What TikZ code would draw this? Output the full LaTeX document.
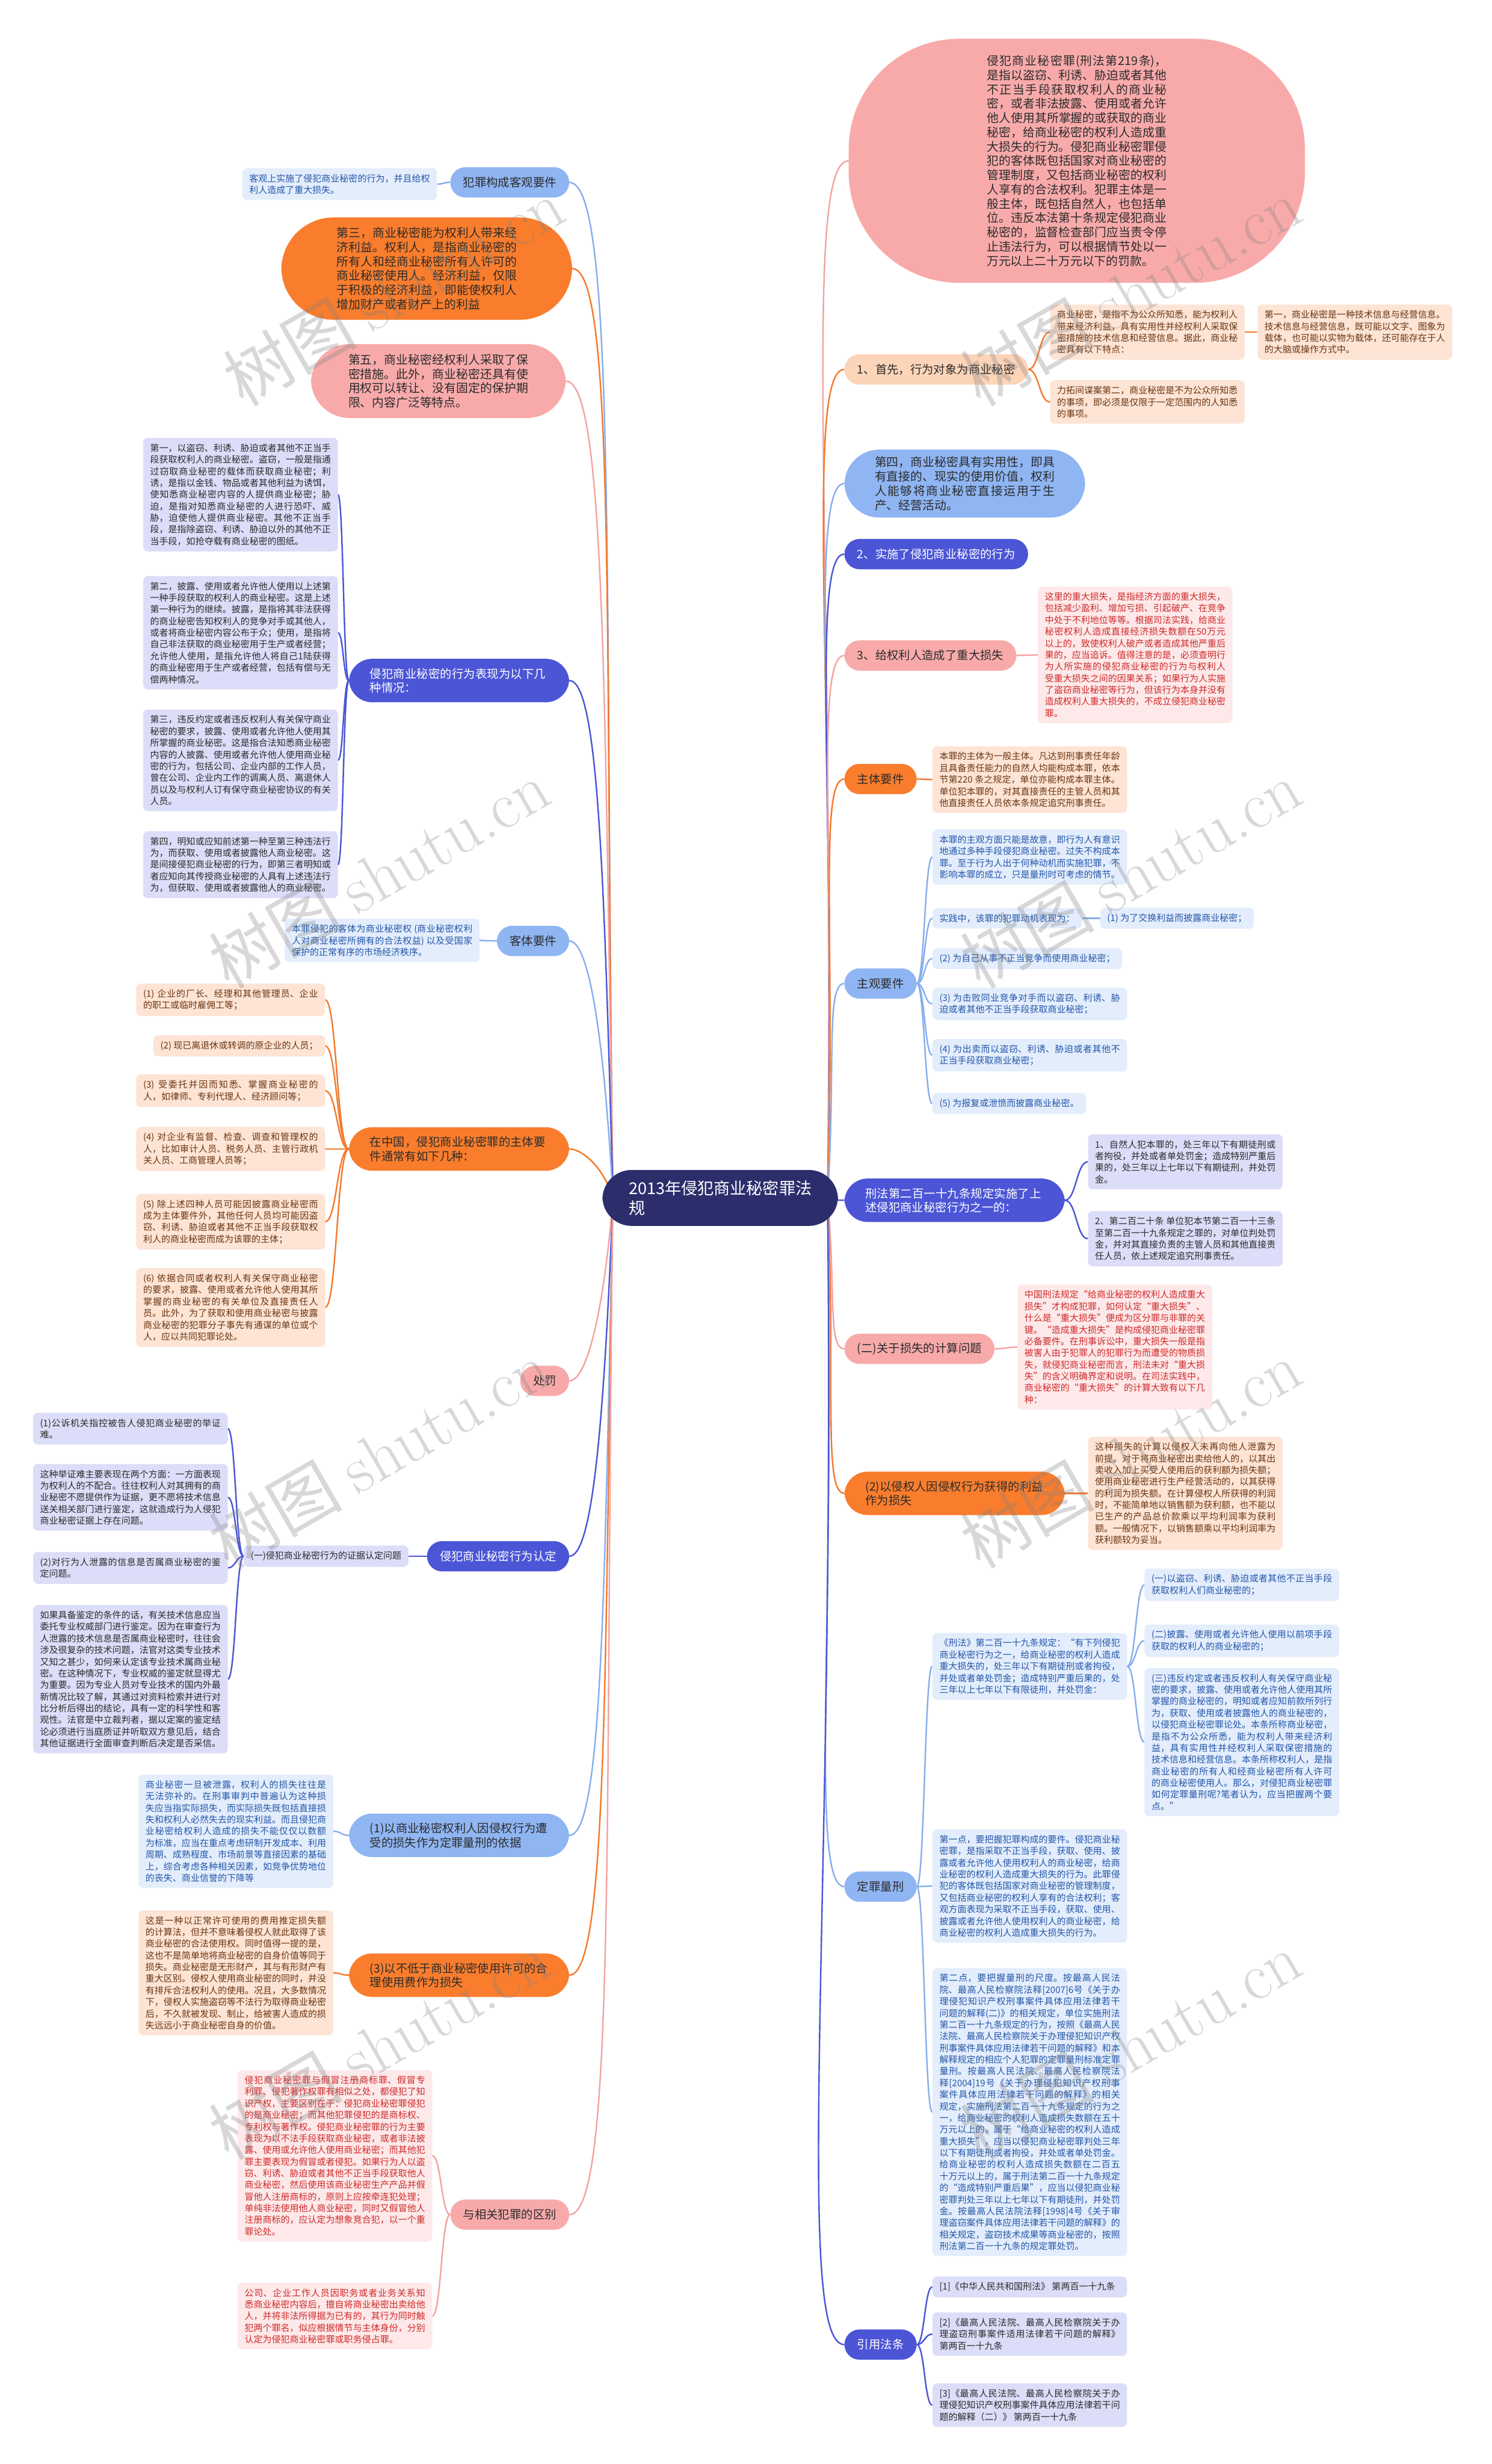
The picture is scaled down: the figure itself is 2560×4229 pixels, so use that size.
\documentclass[tikz,border=0pt]{standalone}
\usepackage{fontspec}
\newfontfamily\cjk{Noto Sans CJK SC}
\usetikzlibrary{calc,backgrounds}
\XeTeXlinebreaklocale "zh"
\XeTeXlinebreakskip = 0pt plus 1pt
\definecolor{cen}{HTML}{2C2E6C}
\definecolor{ind}{HTML}{4B55D6}
\definecolor{indL}{HTML}{DCDDF8}
\definecolor{org}{HTML}{F97D2D}
\definecolor{orgP}{HTML}{FCD4B8}
\definecolor{orgL}{HTML}{FDE4D5}
\definecolor{blu}{HTML}{8FB5F2}
\definecolor{bluL}{HTML}{E3EDFC}
\definecolor{pnk}{HTML}{F8AAAA}
\definecolor{pnkL}{HTML}{FDE9E9}
\definecolor{txt}{HTML}{2B2B2B}
\definecolor{brn}{HTML}{6A3512}
\definecolor{bluT}{HTML}{2456A8}
\definecolor{redT}{HTML}{D0282A}
\definecolor{cInd}{HTML}{4B55D6}
\definecolor{cOrg}{HTML}{F47A2C}
\definecolor{cBlu}{HTML}{86AEEE}
\definecolor{cPnk}{HTML}{F2A3A3}
\newcommand\mainR[2]{\draw[#1] let \p1=(hubR), \p2=(#2.west) in (\p1) .. controls (\x1+15pt,{0.4*\y1+0.6*\y2}) and ({\x2-20pt-0.035*abs(\y2-\y1)},\y2) .. (\p2);}
\newcommand\mainL[2]{\draw[#1] let \p1=(hubL), \p2=(#2.east) in (\p1) .. controls (\x1-15pt,{0.4*\y1+0.6*\y2}) and ({\x2+20pt+0.035*abs(\y2-\y1)},\y2) .. (\p2);}
\newcommand\chR[3]{\draw[#1] (#2.east) .. controls ($(#2.east)!0.5!(#3.west|-#2.east)$) and ($(#3.west)!0.5!(#2.east|-#3.west)$) .. (#3.west);}
\newcommand\chL[3]{\draw[#1] (#2.west) .. controls ($(#2.west)!0.5!(#3.east|-#2.west)$) and ($(#3.east)!0.5!(#2.west|-#3.east)$) .. (#3.east);}
\begin{document}
\begin{tikzpicture}[x=1pt,y=-1pt,
  pill/.style={rounded corners=26pt, minimum height=52pt, inner xsep=22pt, inner ysep=10pt, font=\cjk\fontsize{20}{24}\selectfont},
  pilltwo/.style={rounded corners=40pt, inner xsep=36pt, inner ysep=16pt, text width=306pt, align=left, font=\cjk\fontsize{20}{24}\selectfont},
  big/.style={inner ysep=17pt, text width=309pt, align=justify, font=\cjk\fontsize{20.5}{24.5}\selectfont},
  box/.style={rounded corners=8pt, inner xsep=12pt, inner ysep=10pt, text width=310pt, align=justify, font=\cjk\fontsize{15.5}{20}\selectfont},
  boxn/.style={rounded corners=8pt, inner xsep=12pt, inner ysep=10pt, align=left, font=\cjk\fontsize{15.5}{20}\selectfont},
  fInd/.style={fill=ind, text=white},
  fIndL/.style={fill=indL, text=txt},
  fOrg/.style={fill=org, text=txt},
  fOrgL/.style={fill=orgL, text=brn},
  fBlu/.style={fill=blu, text=txt},
  fBluL/.style={fill=bluL, text=bluT},
  fPnk/.style={fill=pnk, text=txt},
  fPnkL/.style={fill=pnkL, text=redT},
  lInd/.style={draw=cInd, line width=2.5pt},
  lOrg/.style={draw=cOrg, line width=2.5pt},
  lBlu/.style={draw=cBlu, line width=2.5pt},
  lPnk/.style={draw=cPnk, line width=2.5pt},
  wm/.style={rotate=30, text=gray, opacity=0.3, font=\cjk\fontsize{115}{115}\selectfont}
]
\useasboundingbox (0,0) rectangle (2560,4229);
\begin{scope}[on background layer]
\fill[white] (0,0) rectangle (2560,4229);
\end{scope}

% centre
\node[fill=cen, text=white, rounded corners=50pt, inner xsep=45pt, inner ysep=18pt, align=left, font=\cjk\fontsize{28}{34}\selectfont] (C) at (1236,2056) {2013年侵犯商业秘密罪法\\规};
\coordinate (hubR) at (1420,2056);
\coordinate (hubL) at (1052,2056);

% ---------------- right side ----------------
\node[big, fill=pnk, text=txt, rounded corners=190pt, minimum width=783pt, minimum height=419pt, inner ysep=8pt] (R1) at (1848,276) {侵犯商业秘密罪(刑法第219条)，是指以盗窃、利诱、胁迫或者其他不正当手段获取权利人的商业秘密，或者非法披露、使用或者允许他人使用其所掌握的或获取的商业秘密，给商业秘密的权利人造成重大损失的行为。侵犯商业秘密罪侵犯的客体既包括国家对商业秘密的管理制度，又包括商业秘密的权利人享有的合法权利。犯罪主体是一般主体，既包括自然人，也包括单位。违反本法第十条规定侵犯商业秘密的，监督检查部门应当责令停止违法行为，可以根据情节处以一万元以上二十万元以下的罚款。};

\node[pill, fill=orgP, text=txt, anchor=west] (R2) at (1449,634) {1、首先，行为对象为商业秘密};
\node[box, fOrgL, anchor=west] (R2a) at (1802,570) {商业秘密，是指不为公众所知悉，能为权利人带来经济利益，具有实用性并经权利人采取保密措施的技术信息和经营信息。据此，商业秘密具有以下特点：};
\node[box, fOrgL, anchor=west] (R2b) at (1802,690) {力拓间谍案第二，商业秘密是不为公众所知悉的事项，即必须是仅限于一定范围内的人知悉的事项。};
\node[box, fOrgL, anchor=west] (R2c) at (2158,570) {第一，商业秘密是一种技术信息与经营信息。技术信息与经营信息，既可能以文字、图象为载体，也可能以实物为载体，还可能存在于人的大脑或操作方式中。};

\node[big, fBlu, rounded corners=60pt, inner xsep=52pt, inner ysep=12pt, anchor=west] (R3) at (1449,830) {第四，商业秘密具有实用性，即具有直接的、现实的使用价值，权利人能够将商业秘密直接运用于生产、经营活动。};

\node[pill, fInd, anchor=west] (R4) at (1449,951) {2、实施了侵犯商业秘密的行为};

\node[pill, fPnk, anchor=west] (R5) at (1449,1125) {3、给权利人造成了重大损失};
\node[box, fPnkL, anchor=west] (R5a) at (1781,1124) {这里的重大损失，是指经济方面的重大损失，包括减少盈利、增加亏损、引起破产、在竞争中处于不利地位等等。根据司法实践，给商业秘密权利人造成直接经济损失数额在50万元以上的，致使权利人破产或者造成其他严重后果的，应当追诉。值得注意的是，必须查明行为人所实施的侵犯商业秘密的行为与权利人受重大损失之间的因果关系；如果行为人实施了盗窃商业秘密等行为，但该行为本身并没有造成权利人重大损失的，不成立侵犯商业秘密罪。};

\node[pill, fOrg, anchor=west] (R6) at (1449,1337) {主体要件};
\node[box, fOrgL, anchor=west] (R6a) at (1600,1338) {本罪的主体为一般主体。凡达到刑事责任年龄且具备责任能力的自然人均能构成本罪，依本节第220 条之规定，单位亦能构成本罪主体。单位犯本罪的，对其直接责任的主管人员和其他直接责任人员依本条规定追究刑事责任。};

\node[pill, fBlu, anchor=west] (R7) at (1449,1688) {主观要件};
\node[box, fBluL, anchor=west] (R7a) at (1600,1471) {本罪的主观方面只能是故意，即行为人有意识地通过多种手段侵犯商业秘密。过失不构成本罪。至于行为人出于何种动机而实施犯罪，不影响本罪的成立，只是量刑时可考虑的情节。};
\node[boxn, fBluL, anchor=west] (R7b) at (1600,1576) {实践中，该罪的犯罪动机表现为：};
\node[boxn, fBluL, anchor=west] (R7b1) at (1888,1576) {(1) 为了交换利益而披露商业秘密；};
\node[boxn, fBluL, anchor=west] (R7c) at (1600,1645) {(2) 为自己从事不正当竞争而使用商业秘密；};
\node[box, fBluL, anchor=west] (R7d) at (1600,1723) {(3) 为击败同业竞争对手而以盗窃、利诱、胁迫或者其他不正当手段获取商业秘密；};
\node[box, fBluL, anchor=west] (R7e) at (1600,1811) {(4) 为出卖而以盗窃、利诱、胁迫或者其他不正当手段获取商业秘密；};
\node[boxn, fBluL, anchor=west] (R7f) at (1600,1894) {(5) 为报复或泄愤而披露商业秘密。};

\node[pilltwo, fInd, anchor=west] (R8) at (1449,2060) {刑法第二百一十九条规定实施了上述侵犯商业秘密行为之一的：};
\node[box, fIndL, anchor=west] (R8a) at (1867,1994) {1、自然人犯本罪的，处三年以下有期徒刑或者拘役，并处或者单处罚金；造成特别严重后果的，处三年以上七年以下有期徒刑，并处罚金。};
\node[box, fIndL, anchor=west] (R8b) at (1867,2126) {2、第二百二十条 单位犯本节第二百一十三条至第二百一十九条规定之罪的，对单位判处罚金，并对其直接负责的主管人员和其他直接责任人员，依上述规定追究刑事责任。};

\node[pill, fPnk, anchor=west] (R9) at (1449,2315) {(二)关于损失的计算问题};
\node[box, fPnkL, anchor=west] (R9a) at (1746,2312) {中国刑法规定“给商业秘密的权利人造成重大损失”才构成犯罪，如何认定“重大损失”、什么是“重大损失”便成为区分罪与非罪的关键。“造成重大损失”是构成侵犯商业秘密罪必备要件。在刑事诉讼中，重大损失一般是指被害人由于犯罪人的犯罪行为而遭受的物质损失，就侵犯商业秘密而言，刑法未对“重大损失”的含义明确界定和说明。在司法实践中，商业秘密的“重大损失”的计算大致有以下几种：};

\node[pilltwo, fOrg, anchor=west] (R10) at (1449,2563) {(2)以侵权人因侵权行为获得的利益作为损失};
\node[box, fOrgL, anchor=west] (R10a) at (1867,2563) {这种损失的计算以侵权人未再向他人泄露为前提。对于将商业秘密出卖给他人的，以其出卖收入加上买受人使用后的获利额为损失额；使用商业秘密进行生产经营活动的，以其获得的利润为损失额。在计算侵权人所获得的利润时，不能简单地以销售额为获利额，也不能以已生产的产品总价款乘以平均利润率为获利额。一般情况下，以销售额乘以平均利润率为获利额较为妥当。};

\node[pill, fBlu, anchor=west] (R11) at (1449,3238) {定罪量刑};
\node[box, fBluL, anchor=west] (R11a) at (1600,2860) {《刑法》第二百一十九条规定：“有下列侵犯商业秘密行为之一，给商业秘密的权利人造成重大损失的，处三年以下有期徒刑或者拘役，并处或者单处罚金；造成特别严重后果的，处三年以上七年以下有限徒刑，并处罚金：};
\node[box, fBluL, anchor=west] (R11a1) at (1964,2720) {(一)以盗窃、利诱、胁迫或者其他不正当手段获取权利人们商业秘密的；};
\node[box, fBluL, anchor=west] (R11a2) at (1964,2816) {(二)披露、使用或者允许他人使用以前项手段获取的权利人的商业秘密的；};
\node[box, fBluL, anchor=west] (R11a3) at (1964,2990) {(三)违反约定或者违反权利人有关保守商业秘密的要求，披露、使用或者允许他人使用其所掌握的商业秘密的，明知或者应知前款所列行为，获取、使用或者披露他人的商业秘密的，以侵犯商业秘密罪论处。本条所称商业秘密，是指不为公众所悉，能为权利人带来经济利益，具有实用性并经权利人采取保密措施的技术信息和经营信息。本条所称权利人，是指商业秘密的所有人和经商业秘密所有人许可的商业秘密使用人。那么，对侵犯商业秘密罪如何定罪量刑呢?笔者认为，应当把握两个要点。”};
\node[box, fBluL, anchor=west] (R11b) at (1600,3237) {第一点，要把握犯罪构成的要件。侵犯商业秘密罪，是指采取不正当手段，获取、使用、披露或者允许他人使用权利人的商业秘密，给商业秘密的权利人造成重大损失的行为。此罪侵犯的客体既包括国家对商业秘密的管理制度，又包括商业秘密的权利人享有的合法权利；客观方面表现为采取不正当手段，获取、使用、披露或者允许他人使用权利人的商业秘密，给商业秘密的权利人造成重大损失的行为。};
\node[box, fBluL, anchor=west] (R11c) at (1600,3625) {第二点，要把握量刑的尺度。按最高人民法院、最高人民检察院法释[2007]6号《关于办理侵犯知识产权刑事案件具体应用法律若干问题的解释(二)》的相关规定，单位实施刑法第二百一十九条规定的行为，按照《最高人民法院、最高人民检察院关于办理侵犯知识产权刑事案件具体应用法律若干问题的解释》和本解释规定的相应个人犯罪的定罪量刑标准定罪量刑。按最高人民法院、最高人民检察院法释[2004]19号《关于办理侵犯知识产权刑事案件具体应用法律若干问题的解释》的相关规定，实施刑法第二百一十九条规定的行为之一，给商业秘密的权利人造成损失数额在五十万元以上的，属于“给商业秘密的权利人造成重大损失”，应当以侵犯商业秘密罪判处三年以下有期徒刑或者拘役，并处或者单处罚金。给商业秘密的权利人造成损失数额在二百五十万元以上的，属于刑法第二百一十九条规定的“造成特别严重后果”，应当以侵犯商业秘密罪判处三年以上七年以下有期徒刑，并处罚金。按最高人民法院法释[1998]4号《关于审理盗窃案件具体应用法律若干问题的解释》的相关规定，盗窃技术成果等商业秘密的，按照刑法第二百一十九条的规定罪处罚。};

\node[pill, fInd, anchor=west] (R12) at (1449,4024) {引用法条};
\node[box, fIndL, anchor=west] (R12a) at (1600,3925) {[1]《中华人民共和国刑法》 第两百一十九条};
\node[box, fIndL, anchor=west] (R12b) at (1600,4006) {[2]《最高人民法院、最高人民检察院关于办理盗窃刑事案件适用法律若干问题的解释》 第两百一十九条};
\node[box, fIndL, anchor=west] (R12c) at (1600,4128) {[3]《最高人民法院、最高人民检察院关于办理侵犯知识产权刑事案件具体应用法律若干问题的解释（二）》 第两百一十九条};

% ---------------- left side ----------------
\node[pill, fBlu, anchor=east] (L1) at (977,313) {犯罪构成客观要件};
\node[box, fBluL, anchor=east] (L1a) at (750,316) {客观上实施了侵犯商业秘密的行为，并且给权利人造成了重大损失。};

\node[big, fOrg, rounded corners=90pt, inner xsep=95pt, anchor=east] (L2) at (982,461) {第三，商业秘密能为权利人带来经济利益。权利人，是指商业秘密的所有人和经商业秘密所有人许可的商业秘密使用人。经济利益，仅限于积极的经济利益，即能使权利人增加财产或者财产上的利益};

\node[big, fill=pnk, text=txt, rounded corners=66pt, inner xsep=64pt, anchor=east] (L3) at (971,654) {第五，商业秘密经权利人采取了保密措施。此外，商业秘密还具有使用权可以转让、没有固定的保护期限、内容广泛等特点。};

\node[pilltwo, fInd, anchor=east] (L4) at (977,1168) {侵犯商业秘密的行为表现为以下几种情况：};
\node[box, fIndL, anchor=east] (L4a) at (580,849) {第一，以盗窃、利诱、胁迫或者其他不正当手段获取权利人的商业秘密。盗窃，一般是指通过窃取商业秘密的载体而获取商业秘密；利诱，是指以金钱、物品或者其他利益为诱饵，使知悉商业秘密内容的人提供商业秘密；胁迫，是指对知悉商业秘密的人进行恐吓、威胁，迫使他人提供商业秘密。其他不正当手段，是指除盗窃、利诱、胁迫以外的其他不正当手段，如抢夺载有商业秘密的图纸。};
\node[box, fIndL, anchor=east] (L4b) at (580,1086) {第二，披露、使用或者允许他人使用以上述第一种手段获取的权利人的商业秘密。这是上述第一种行为的继续。披露，是指将其非法获得的商业秘密告知权利人的竞争对手或其他人，或者将商业秘密内容公布于众；使用，是指将自己非法获取的商业秘密用于生产或者经营；允许他人使用，是指允许他人将自己1陆获得的商业秘密用于生产或者经营，包括有偿与无偿两种情况。};
\node[box, fIndL, anchor=east] (L4c) at (580,1305) {第三，违反约定或者违反权利人有关保守商业秘密的要求，披露、使用或者允许他人使用其所掌握的商业秘密。这是指合法知悉商业秘密内容的人披露、使用或者允许他人使用商业秘密的行为，包括公司、企业内部的工作人员，曾在公司、企业内工作的调离人员、离退休人员以及与权利人订有保守商业秘密协议的有关人员。};
\node[box, fIndL, anchor=east] (L4d) at (580,1484) {第四，明知或应知前述第一种至第三种违法行为，而获取、使用或者披露他人商业秘密。这是间接侵犯商业秘密的行为，即第三者明知或者应知向其传授商业秘密的人具有上述违法行为，但获取、使用或者披露他人的商业秘密。};

\node[pill, fBlu, anchor=east] (L5) at (977,1615) {客体要件};
\node[box, fBluL, anchor=east] (L5a) at (823,1614) {本罪侵犯的客体为商业秘密权 (商业秘密权利人对商业秘密所拥有的合法权益) 以及受国家保护的正常有序的市场经济秩序。};

\node[pilltwo, fOrg, anchor=east] (L6) at (977,1972) {在中国，侵犯商业秘密罪的主体要件通常有如下几种：};
\node[box, fOrgL, text width=300pt, anchor=east] (L6a) at (558,1716) {(1) 企业的厂长、经理和其他管理员、企业的职工或临时雇佣工等；};
\node[boxn, fOrgL, anchor=east] (L6b) at (558,1795) {(2) 现已离退休或转调的原企业的人员；};
\node[box, fOrgL, text width=300pt, anchor=east] (L6c) at (558,1872) {(3) 受委托并因而知悉、掌握商业秘密的人，如律师、专利代理人、经济顾问等；};
\node[box, fOrgL, text width=300pt, anchor=east] (L6d) at (558,1972) {(4) 对企业有监督、检查、调查和管理权的人，比如审计人员、税务人员、主管行政机关人员、工商管理人员等；};
\node[box, fOrgL, text width=300pt, anchor=east] (L6e) at (558,2097) {(5) 除上述四种人员可能因披露商业秘密而成为主体要件外，其他任何人员均可能因盗窃、利诱、胁迫或者其他不正当手段获取权利人的商业秘密而成为该罪的主体；};
\node[box, fOrgL, text width=300pt, anchor=east] (L6f) at (558,2244) {(6) 依据合同或者权利人有关保守商业秘密的要求，披露、使用或者允许他人使用其所掌握的商业秘密的有关单位及直接责任人员。此外，为了获取和使用商业秘密与披露商业秘密的犯罪分子事先有通谋的单位或个人，应以共同犯罪论处。};

\node[pill, fPnk, anchor=east] (L7) at (977,2370) {处罚};

\node[pill, fInd, anchor=east] (L8) at (977,2671) {侵犯商业秘密行为认定};
\node[boxn, fIndL, anchor=east] (L8a) at (701,2671) {(一)侵犯商业秘密行为的证据认定问题};
\node[box, fIndL, anchor=east] (L8a1) at (391,2452) {(1)公诉机关指控被告人侵犯商业秘密的举证难。};
\node[box, fIndL, anchor=east] (L8a2) at (391,2570) {这种举证难主要表现在两个方面：一方面表现为权利人的不配合。往往权利人对其拥有的商业秘密不愿提供作为证据，更不愿将技术信息送关相关部门进行鉴定，这就造成行为人侵犯商业秘密证据上存在问题。};
\node[box, fIndL, anchor=east] (L8a3) at (391,2691) {(2)对行为人泄露的信息是否属商业秘密的鉴定问题。};
\node[box, fIndL, anchor=east] (L8a4) at (391,2882) {如果具备鉴定的条件的话，有关技术信息应当委托专业权威部门进行鉴定。因为在审查行为人泄露的技术信息是否属商业秘密时，往往会涉及很复杂的技术问题，法官对这类专业技术又知之甚少，如何来认定该专业技术属商业秘密。在这种情况下，专业权威的鉴定就显得尤为重要。因为专业人员对专业技术的国内外最新情况比较了解，其通过对资料检索并进行对比分析后得出的结论，具有一定的科学性和客观性。法官是中立裁判者，据以定案的鉴定结论必须进行当庭质证并听取双方意见后，结合其他证据进行全面审查判断后决定是否采信。};

\node[pilltwo, fBlu, anchor=east] (L9) at (977,3150) {(1)以商业秘密权利人因侵权行为遭受的损失作为定罪量刑的依据};
\node[box, fBluL, anchor=east] (L9a) at (572,3143) {商业秘密一旦被泄露，权利人的损失往往是无法弥补的。在刑事审判中普遍认为这种损失应当指实际损失，而实际损失既包括直接损失和权利人必然失去的现实利益。而且侵犯商业秘密给权利人造成的损失不能仅仅以数额为标准，应当在重点考虑研制开发成本、利用周期、成熟程度、市场前景等直接因素的基础上，综合考虑各种相关因素，如竞争优势地位的丧失、商业信誉的下降等};

\node[pilltwo, fOrg, anchor=east] (L10) at (977,3390) {(3)以不低于商业秘密使用许可的合理使用费作为损失};
\node[box, fOrgL, anchor=east] (L10a) at (572,3386) {这是一种以正常许可使用的费用推定损失额的计算法，但并不意味着侵权人就此取得了该商业秘密的合法使用权。同时值得一提的是，这也不是简单地将商业秘密的自身价值等同于损失。商业秘密是无形财产，其与有形财产有重大区别。侵权人使用商业秘密的同时，并没有排斥合法权利人的使用。况且，大多数情况下，侵权人实施盗窃等不法行为取得商业秘密后，不久就被发现、制止，给被害人造成的损失远远小于商业秘密自身的价值。};

\node[pill, fPnk, anchor=east] (L11) at (977,3801) {与相关犯罪的区别};
\node[box, fPnkL, anchor=east] (L11a) at (742,3700) {侵犯商业秘密罪与假冒注册商标罪、假冒专利罪、侵犯著作权罪有相似之处，都侵犯了知识产权，主要区别在于：侵犯商业秘密罪侵犯的是商业秘密；而其他犯罪侵犯的是商标权、专利权与著作权。侵犯商业秘密罪的行为主要表现为以不法手段获取商业秘密，或者非法披露、使用或允许他人使用商业秘密；而其他犯罪主要表现为假冒或者侵犯。如果行为人以盗窃、利诱、胁迫或者其他不正当手段获取他人商业秘密，然后使用该商业秘密生产产品并假冒他人注册商标的，原则上应按牵连犯处理；单纯非法使用他人商业秘密，同时又假冒他人注册商标的，应认定为想象竞合犯，以一个重罪论处。};
\node[box, fPnkL, anchor=east] (L11b) at (742,3975) {公司、企业工作人员因职务或者业务关系知悉商业秘密内容后，擅自将商业秘密出卖给他人，并将非法所得据为已有的，其行为同时触犯两个罪名，似应根据情节与主体身份，分别认定为侵犯商业秘密罪或职务侵占罪。};

% ---------------- connectors ----------------
\begin{scope}[on background layer]
\mainR{lPnk}{R1}
\mainR{lOrg}{R2}
\mainR{lBlu}{R3}
\mainR{lInd}{R4}
\mainR{lPnk}{R5}
\mainR{lOrg}{R6}
\mainR{lBlu}{R7}
\mainR{lInd}{R8}
\mainR{lPnk}{R9}
\mainR{lOrg}{R10}
\mainR{lBlu}{R11}
\mainR{lInd}{R12}
\mainL{lBlu}{L1}
\mainL{lOrg}{L2}
\mainL{lPnk}{L3}
\mainL{lInd}{L4}
\mainL{lBlu}{L5}
\mainL{lOrg}{L6}
\mainL{lPnk}{L7}
\mainL{lInd}{L8}
\mainL{lBlu}{L9}
\mainL{lOrg}{L10}
\mainL{lPnk}{L11}
\chR{lOrg}{R2}{R2a}
\chR{lOrg}{R2}{R2b}
\chR{lOrg}{R2a}{R2c}
\chR{lPnk}{R5}{R5a}
\chR{lOrg}{R6}{R6a}
\chR{lBlu}{R7}{R7a}
\chR{lBlu}{R7}{R7b}
\chR{lBlu}{R7b}{R7b1}
\chR{lBlu}{R7}{R7c}
\chR{lBlu}{R7}{R7d}
\chR{lBlu}{R7}{R7e}
\chR{lBlu}{R7}{R7f}
\chR{lInd}{R8}{R8a}
\chR{lInd}{R8}{R8b}
\chR{lPnk}{R9}{R9a}
\chR{lOrg}{R10}{R10a}
\chR{lBlu}{R11}{R11a}
\chR{lBlu}{R11a}{R11a1}
\chR{lBlu}{R11a}{R11a2}
\chR{lBlu}{R11a}{R11a3}
\chR{lBlu}{R11}{R11b}
\chR{lBlu}{R11}{R11c}
\chR{lInd}{R12}{R12a}
\chR{lInd}{R12}{R12b}
\chR{lInd}{R12}{R12c}
\chL{lBlu}{L1}{L1a}
\chL{lInd}{L4}{L4a}
\chL{lInd}{L4}{L4b}
\chL{lInd}{L4}{L4c}
\chL{lInd}{L4}{L4d}
\chL{lBlu}{L5}{L5a}
\chL{lOrg}{L6}{L6a}
\chL{lOrg}{L6}{L6b}
\chL{lOrg}{L6}{L6c}
\chL{lOrg}{L6}{L6d}
\chL{lOrg}{L6}{L6e}
\chL{lOrg}{L6}{L6f}
\chL{lInd}{L8}{L8a}
\chL{lInd}{L8a}{L8a1}
\chL{lInd}{L8a}{L8a2}
\chL{lInd}{L8a}{L8a3}
\chL{lInd}{L8a}{L8a4}
\chL{lBlu}{L9}{L9a}
\chL{lOrg}{L10}{L10a}
\chL{lPnk}{L11}{L11a}
\chL{lPnk}{L11}{L11b}
\end{scope}

% watermarks
\node[wm] (wm1) at (675,500) {树图 {\rmfamily shutu.cn}};
\node[wm] (wm2) at (1940,500) {树图 {\rmfamily shutu.cn}};
\node[wm] (wm3) at (650,1500) {树图 {\rmfamily shutu.cn}};
\node[wm] (wm4) at (1940,1500) {树图 {\rmfamily shutu.cn}};
\node[wm] (wm5) at (650,2495) {树图 {\rmfamily shutu.cn}};
\node[wm] (wm6) at (1940,2495) {树图 {\rmfamily shutu.cn}};
\node[wm] (wm7) at (650,3510) {树图 {\rmfamily shutu.cn}};
\node[wm] (wm8) at (1940,3510) {树图 {\rmfamily shutu.cn}};
\end{tikzpicture}
\end{document}
